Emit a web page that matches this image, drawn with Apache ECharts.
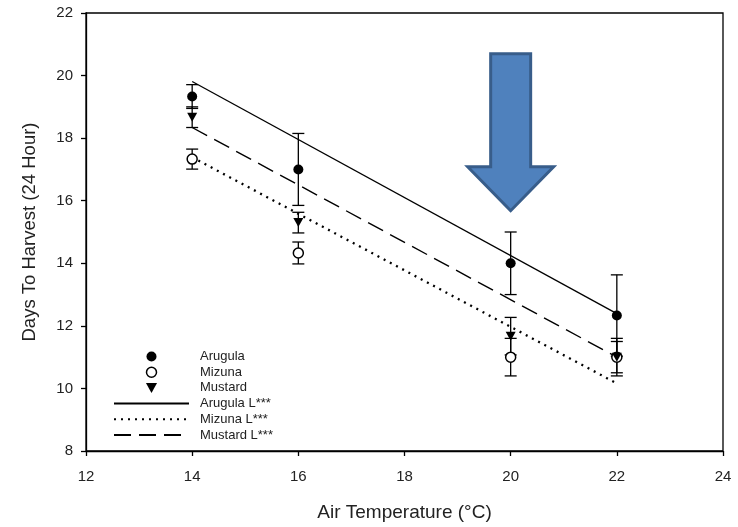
<!DOCTYPE html>
<html lang="en">
<head>
    <meta charset="UTF-8">
    <title>Days To Harvest</title>
    <script src="https://cdn.jsdelivr.net/npm/echarts@6.0.0/dist/echarts.min.js"></script>
    <style>
        html, body {
            margin: 0;
            padding: 0;
            background: #fff;
        }

        #chart {
            width: 738px;
            height: 527px;
        }
    </style>
</head>
<body>
<div id="chart"></div>
<script>
    // air temperature (°C) of each trial
    const temps = [14, 16, 20, 22];

    // mean days to harvest and error bars
    const arugula = [19.33, 17.0, 14.0, 12.33];
    const arugulaErr = [0.38, 1.15, 1.0, 1.3];
    const mizuna = [17.33, 14.33, 11.0, 11.0];
    const mizunaErr = [0.32, 0.35, 0.6, 0.6];
    const mustard = [18.67, 15.3, 11.67, 11.0];
    const mustardErr = [0.33, 0.33, 0.6, 0.5];

    // linear fits, values at both ends
    const fitX = [14, 22];
    const arugulaFit = [19.81, 12.39];
    const mizunaFit = [17.39, 10.16];
    const mustardFit = [18.34, 11.0];

    // axis ranges
    const xRange = [12, 24];
    const yRange = [8, 22];
    const step = 2;

    // tip of the blue arrow (x, y)
    const arrowAt = [20, 15.68];

    const font = "'Liberation Sans', Arial, sans-serif";
    const ink = '#000';

    function pairs(xs, ys) {
        return xs.map((x, i) => [x, ys[i]]);
    }

    // vertical error bar with caps
    function errSeries(name, vals, errs) {
        return {
            name: name,
            type: 'custom',
            silent: true,
            z: 3,
            data: temps.map((t, i) => [t, vals[i], errs[i]]),
            encode: {x: 0, y: 1},
            renderItem: function (params, api) {
                const x = api.value(0), y = api.value(1), e = api.value(2);
                const hi = api.coord([x, y + e]);
                const lo = api.coord([x, y - e]);
                const w = 6;
                const st = {stroke: ink, lineWidth: 1.3};
                return {
                    type: 'group',
                    children: [
                        {type: 'line', shape: {x1: hi[0], y1: hi[1], x2: lo[0], y2: lo[1]}, style: st},
                        {type: 'line', shape: {x1: hi[0] - w, y1: hi[1], x2: hi[0] + w, y2: hi[1]}, style: st},
                        {type: 'line', shape: {x1: lo[0] - w, y1: lo[1], x2: lo[0] + w, y2: lo[1]}, style: st}
                    ]
                };
            }
        };
    }

    function fitSeries(name, vals, dash, width) {
        return {
            name: name,
            type: 'line',
            data: pairs(fitX, vals),
            symbol: 'none',
            silent: true,
            z: 2,
            itemStyle: {color: ink},
            lineStyle: {color: ink, width: width, type: dash}
        };
    }

    const downTri = 'path://M0,0L10,0L5,9Z';

    var chart = echarts.init(document.getElementById('chart'));
    chart.setOption({
        animation: false,
        textStyle: {fontFamily: font},
        grid: {
            left: 86, right: 15, top: 13, bottom: 74,
            show: true, borderColor: ink, borderWidth: 1.3
        },
        xAxis: {
            type: 'value',
            min: xRange[0], max: xRange[1], interval: step,
            name: 'Air Temperature (°C)',
            nameLocation: 'middle',
            nameGap: 52,
            nameTextStyle: {fontSize: 19, color: '#222', fontFamily: font},
            axisLine: {lineStyle: {color: ink, width: 1.3}},
            axisTick: {length: 5, lineStyle: {color: ink, width: 1.3}},
            axisLabel: {fontSize: 15, margin: 18, color: '#222', fontFamily: font},
            splitLine: {show: false}
        },
        yAxis: {
            type: 'value',
            min: yRange[0], max: yRange[1], interval: step,
            name: 'Days To Harvest (24 Hour)',
            nameLocation: 'middle',
            nameGap: 47,
            nameTextStyle: {fontSize: 18.5, color: '#222', fontFamily: font},
            axisLine: {lineStyle: {color: ink, width: 1.3}},
            axisTick: {length: 5, lineStyle: {color: ink, width: 1.3}},
            axisLabel: {fontSize: 15, margin: 13, color: '#222', fontFamily: font},
            splitLine: {show: false}
        },
        legend: {
            orient: 'vertical',
            left: 108,
            top: 345,
            itemWidth: 75,
            itemHeight: 10,
            itemGap: 2.7,
            selectedMode: false,
            textStyle: {fontSize: 13, lineHeight: 13, color: '#222', fontFamily: font, padding: [0, 0, 0, 6]},
            data: [
                {name: 'Arugula', icon: 'circle', itemStyle: {color: ink}},
                {name: 'Mizuna', icon: 'circle', itemStyle: {color: '#fff', borderColor: ink, borderWidth: 1.5}},
                {name: 'Mustard', icon: downTri, itemStyle: {color: ink}},
                // line samples only, the dot on them is hidden
                {name: 'Arugula L***', itemStyle: {opacity: 0}},
                {name: 'Mizuna L***', itemStyle: {opacity: 0}},
                {name: 'Mustard L***', itemStyle: {opacity: 0}}
            ]
        },
        series: [
            fitSeries('Arugula L***', arugulaFit, 'solid', 1.3),
            fitSeries('Mizuna L***', mizunaFit, [2, 5], 2.3),
            fitSeries('Mustard L***', mustardFit, [17, 8], 1.4),
            errSeries('arugulaErr', arugula, arugulaErr),
            errSeries('mizunaErr', mizuna, mizunaErr),
            errSeries('mustardErr', mustard, mustardErr),
            {
                name: 'Arugula', type: 'scatter', z: 4, silent: true,
                data: pairs(temps, arugula),
                symbol: 'circle', symbolSize: 10,
                itemStyle: {color: ink, opacity: 1}
            },
            {
                name: 'Mizuna', type: 'scatter', z: 4, silent: true,
                data: pairs(temps, mizuna),
                symbol: 'circle', symbolSize: 10,
                itemStyle: {color: '#fff', borderColor: ink, borderWidth: 1.5, opacity: 1}
            },
            {
                name: 'Mustard', type: 'scatter', z: 5, silent: true,
                data: pairs(temps, mustard),
                symbol: downTri, symbolSize: [10, 9],
                itemStyle: {color: ink, opacity: 1}
            },
            {
                // blue arrow annotation, pointing down at 20 °C
                name: 'arrow', type: 'custom', z: 10, silent: true,
                data: [arrowAt],
                encode: {x: 0, y: 1},
                renderItem: function (params, api) {
                    const p = api.coord([api.value(0), api.value(1)]);
                    const tx = p[0], ty = p[1];
                    return {
                        type: 'polygon',
                        shape: {
                            points: [
                                [tx, ty], [tx - 43, ty - 44], [tx - 20, ty - 44], [tx - 20, ty - 157],
                                [tx + 20, ty - 157], [tx + 20, ty - 44], [tx + 43, ty - 44]
                            ]
                        },
                        style: {fill: '#4F81BD', stroke: '#385D8A', lineWidth: 3, lineJoin: 'miter'}
                    };
                }
            }
        ]
    });
</script>
</body>
</html>
